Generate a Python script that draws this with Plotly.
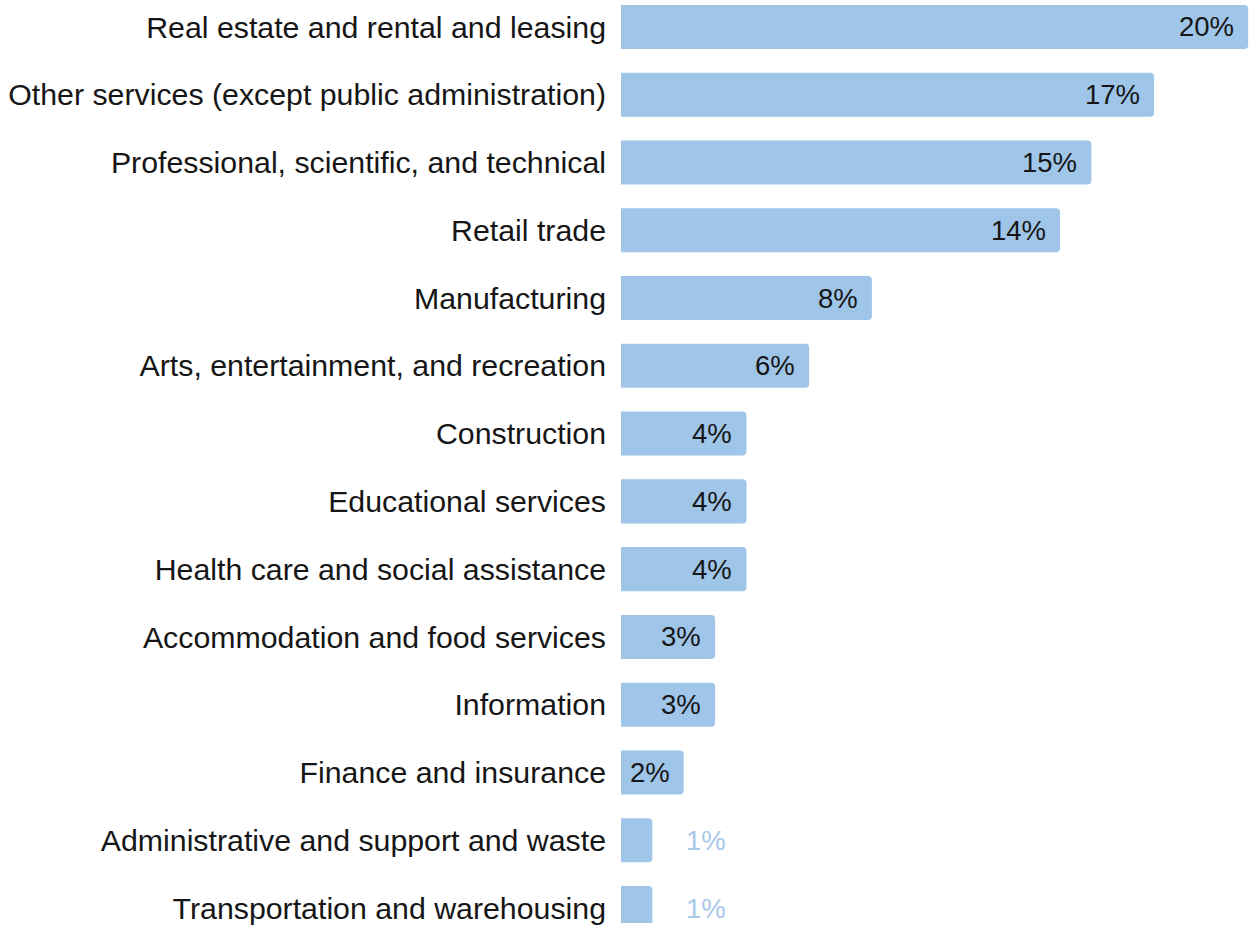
import plotly.graph_objects as go

# Share of businesses by industry (percent)
industries = [
    "Real estate and rental and leasing",
    "Other services (except public administration)",
    "Professional, scientific, and technical",
    "Retail trade",
    "Manufacturing",
    "Arts, entertainment, and recreation",
    "Construction",
    "Educational services",
    "Health care and social assistance",
    "Accommodation and food services",
    "Information",
    "Finance and insurance",
    "Administrative and support and waste",
    "Transportation and warehousing",
]
shares = [20, 17, 15, 14, 8, 6, 4, 4, 4, 3, 3, 2, 1, 1]

BAR_COLOR = "#9fc5e8"
TEXT_COLOR = "#161616"
FONT = "Liberation Sans, Arial, sans-serif"

fig = go.Figure(
    go.Bar(
        x=shares,
        y=industries,
        orientation="h",
        marker=dict(color=BAR_COLOR, line=dict(width=0)),
        width=0.65,
        hoverinfo="skip",
    )
)

# Value labels: inside the bar end, or beside short bars in the bar colour
for name, v in zip(industries, shares):
    if v >= 2:
        fig.add_annotation(
            x=v, y=name, text=f"{v}%", showarrow=False,
            xanchor="right", xshift=-12,
            font=dict(family=FONT, size=27.5, color=TEXT_COLOR),
        )
    else:
        fig.add_annotation(
            x=v, y=name, text=f"{v}%", showarrow=False,
            xanchor="left", xshift=32,
            font=dict(family=FONT, size=27.5, color="#a8c8ea"),
        )

fig.update_layout(
    width=1251,
    height=925,
    margin=dict(l=621, r=0, t=0, b=0),
    paper_bgcolor="white",
    plot_bgcolor="white",
    showlegend=False,
    barcornerradius=4,
    font=dict(family=FONT, color=TEXT_COLOR),
    xaxis=dict(
        range=[0, 20.09],
        showgrid=False, zeroline=False, showticklabels=False, showline=False,
        fixedrange=True,
    ),
    yaxis=dict(
        type="category",
        range=[13.221, -0.3975],
        showgrid=False, zeroline=False, showline=False,
        ticks="",
        ticklabelstandoff=14,
        tickfont=dict(family=FONT, size=30.3, color=TEXT_COLOR),
        fixedrange=True,
    ),
)

fig.write_html("out.html")
